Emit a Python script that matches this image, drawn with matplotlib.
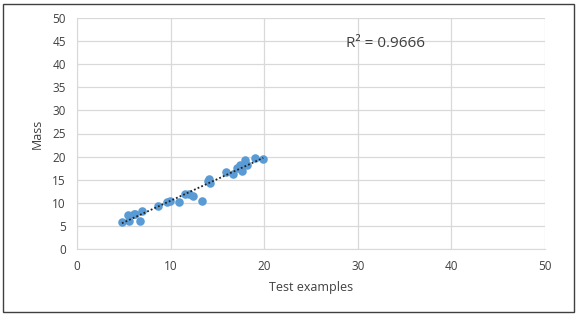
import matplotlib
matplotlib.use("Agg")
import matplotlib.pyplot as plt
from matplotlib.patches import Rectangle
import numpy as np

x_vals = [4.8, 5.5, 5.6, 6.1, 6.2, 6.7, 6.9, 8.7, 9.6, 9.9, 10.9, 11.5, 12.0, 12.4,
          13.4, 14.0, 14.2, 14.1, 15.9, 16.7, 17.1, 17.4, 17.6, 17.9, 18.2, 19.0, 19.9]
y_vals = [5.9, 7.3, 6.0, 7.5, 7.6, 6.1, 8.3, 9.4, 10.1, 10.4, 10.1, 11.9, 11.9, 11.4,
          10.3, 14.7, 14.2, 15.2, 16.7, 16.2, 17.6, 18.1, 16.9, 19.3, 18.2, 19.6, 19.5]
r2_label = "R\u00b2 = 0.9666"
x_label = "Test examples"
y_label = "Mass"
x_ticks = [0, 10, 20, 30, 40, 50]
y_ticks = list(range(0, 51, 5))

plt.rcParams['font.family'] = ['Open Sans', 'DejaVu Sans']

W, H = 578, 315
fig = plt.figure(figsize=(W/100, H/100), dpi=100)
ax = fig.add_axes([77/W, 1-249/H, (545-77)/W, (249-18)/H])

ax.scatter(x_vals, y_vals, s=38, color='#5B9BD5', zorder=3, linewidths=0)
xs = np.array(x_vals); ys = np.array(y_vals)
m, b = np.polyfit(xs, ys, 1)
xl = np.array([xs.min(), xs.max()])
ax.plot(xl, m*xl + b, color='#222222', linestyle=(0, (1, 1.2)), linewidth=1.3, zorder=4)

ax.set_xlim(0, 50)
ax.set_ylim(0, 50)
ax.set_xticks(x_ticks)
ax.set_yticks(y_ticks)
ax.grid(True, color='#d9d9d9', linewidth=0.9)
ax.set_axisbelow(True)
ax.tick_params(length=0, labelsize=8.5, colors='#404040', pad=8)
for s in ['top', 'right']:
    ax.spines[s].set_visible(False)
for s in ['left', 'bottom']:
    ax.spines[s].set_color('#d9d9d9')
ax.set_xlabel(x_label, fontsize=9, color='#404040', labelpad=6)
ax.set_ylabel(y_label, fontsize=9, color='#404040', labelpad=6)
ax.text(28.7, 44.5, r2_label, fontsize=11, color='#404040', va='center', ha='left')

fig.patches.append(Rectangle((3/W, 3/H), 1-7/W, 1-7/H, transform=fig.transFigure,
                             fill=False, edgecolor='#404040', linewidth=1.0))
fig.savefig('out.png', dpi=100, facecolor='white')
